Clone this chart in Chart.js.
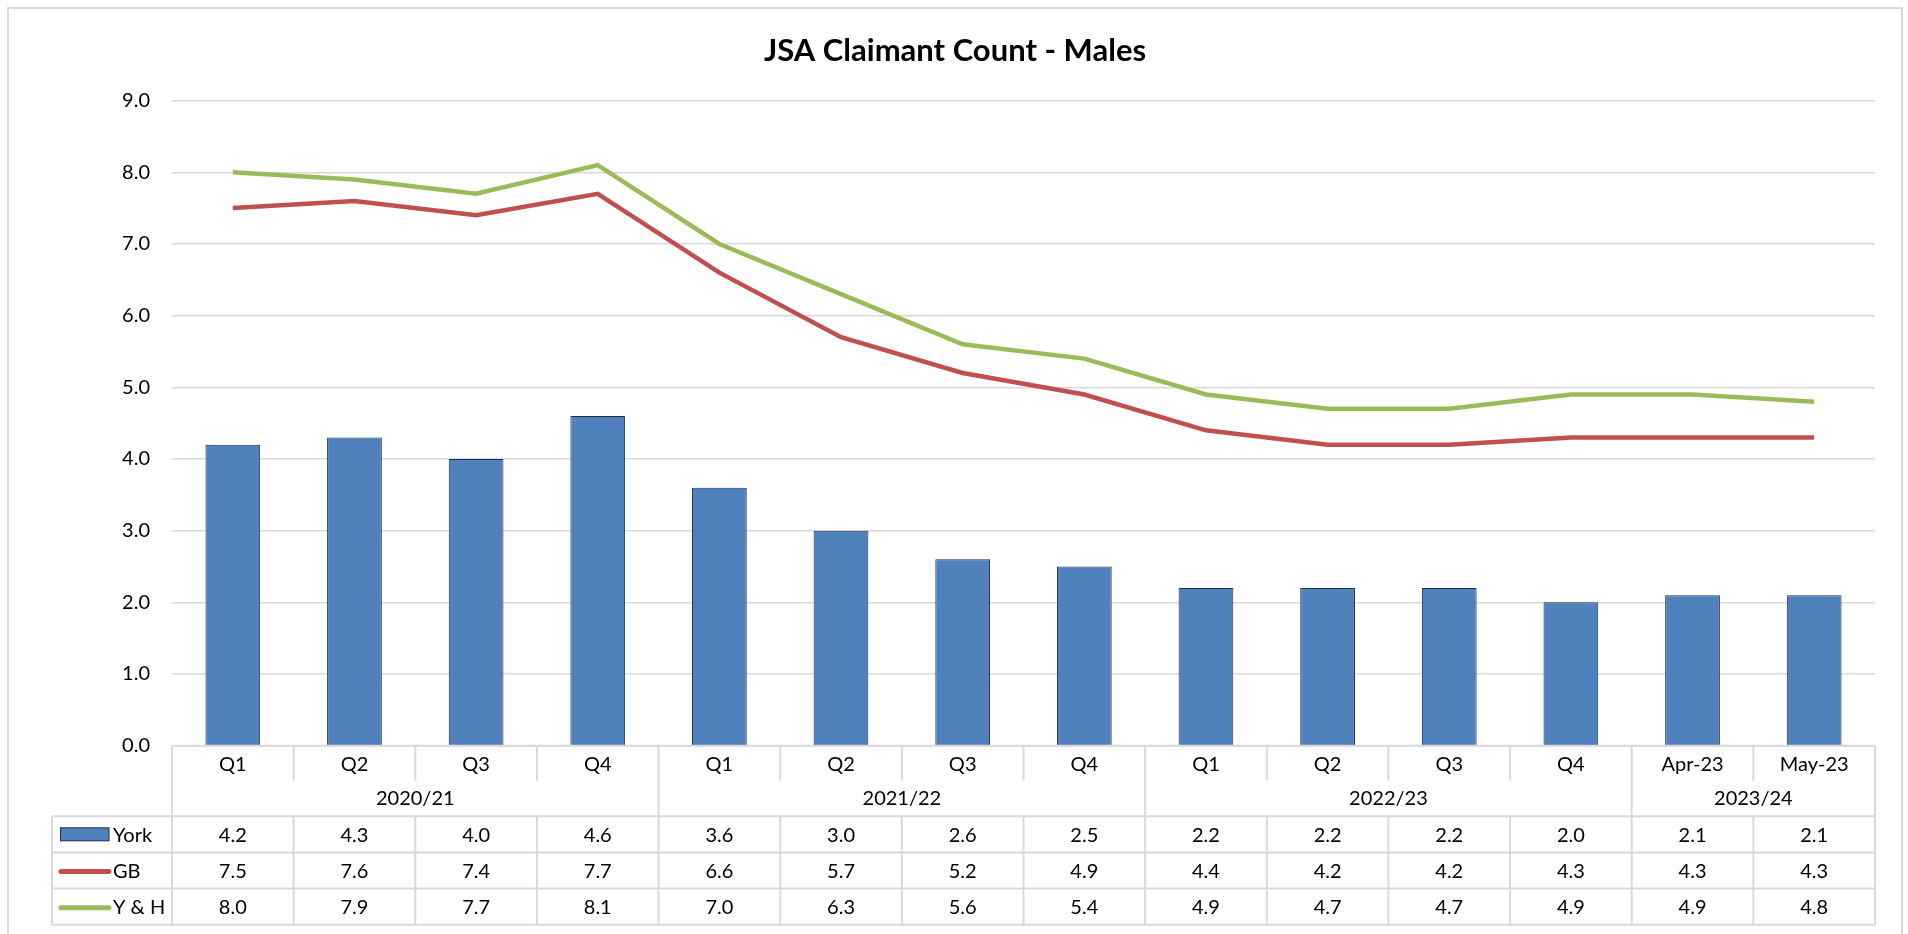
<!DOCTYPE html>
<html>
<head>
<meta charset="utf-8">
<title>JSA Claimant Count - Males</title>
<script src="https://cdn.jsdelivr.net/npm/chart.js@4.4.0/dist/chart.umd.min.js"></script>
<style>
  html,body{margin:0;padding:0;background:#fff;}
  #wrap{width:1908px;height:934px;position:relative;}
</style>
</head>
<body>
<div id="wrap"><canvas id="chart" width="1908" height="934"></canvas></div>
<script>
// data
const quarters = ['Q1','Q2','Q3','Q4','Q1','Q2','Q3','Q4','Q1','Q2','Q3','Q4','Apr-23','May-23'];
const yearLabels = ['2020/21','2021/22','2022/23','2023/24'];
const yearSpans = [4,4,4,2];
const york = [4.2,4.3,4.0,4.6,3.6,3.0,2.6,2.5,2.2,2.2,2.2,2.0,2.1,2.1];
const gb   = [7.5,7.6,7.4,7.7,6.6,5.7,5.2,4.9,4.4,4.2,4.2,4.3,4.3,4.3];
const yh   = [8.0,7.9,7.7,8.1,7.0,6.3,5.6,5.4,4.9,4.7,4.7,4.9,4.9,4.8];
const yMin = 0, yMax = 9, yStep = 1;

const FONT = 'Lato, "Open Sans", sans-serif';
const GRID = '#d9d9d9';

const seriesKeys = [
  {name:'York', kind:'bar', color:'#4F81BD', border:'#1f2f4a', values:york},
  {name:'GB', kind:'line', color:'#C0504D', values:gb},
  {name:'Y & H', kind:'line', color:'#9BBB59', values:yh}
];

// frame + title + data table under the axis
const tablePlugin = {
  id:'dataTable',
  beforeDraw(chart){
    const ctx = chart.ctx;
    ctx.save();
    ctx.fillStyle = '#fff';
    ctx.fillRect(0,0,chart.width,chart.height);
    ctx.strokeStyle = GRID; ctx.lineWidth = 2;
    ctx.strokeRect(8,8,1894,940);
    ctx.fillStyle = '#000';
    ctx.font = 'bold 31px ' + FONT;
    ctx.textAlign = 'center'; ctx.textBaseline = 'alphabetic';
    ctx.fillText('JSA Claimant Count - Males', 955, 61);
    ctx.restore();
  },
  afterDraw(chart){
    const ctx = chart.ctx;
    const x = chart.scales.x;
    const n = quarters.length;
    const w = x.getPixelForValue(1) - x.getPixelForValue(0);
    const left = x.getPixelForValue(0) - w/2;
    const right = left + w*n;
    const top = chart.chartArea.bottom;
    const qEnd = top + 35, tTop = top + 70.5, rowH = 36.2;
    const bottom = tTop + rowH*3;
    const keyLeft = 52;

    ctx.save();
    ctx.strokeStyle = GRID; ctx.lineWidth = 2;
    const line = (x1,y1,x2,y2)=>{ctx.beginPath();ctx.moveTo(x1,y1);ctx.lineTo(x2,y2);ctx.stroke();};
    line(left, top, right, top);
    for (let r=0;r<=3;r++) line(keyLeft, tTop + r*rowH, right, tTop + r*rowH);
    line(left, top, left, bottom);
    line(right, top, right, bottom);
    line(keyLeft, tTop, keyLeft, bottom);
    const groupEdges = [];
    let acc = 0; yearSpans.forEach(s=>{acc+=s; groupEdges.push(acc);});
    for (let i=1;i<n;i++){
      const xx = left + i*w;
      if (groupEdges.includes(i)) line(xx, top, xx, tTop);
      else line(xx, top, xx, qEnd);
      line(xx, tTop, xx, bottom);
    }

    ctx.fillStyle = '#000';
    ctx.font = '20px ' + FONT;
    ctx.textAlign = 'center'; ctx.textBaseline = 'alphabetic';
    quarters.forEach((q,i)=>ctx.fillText(q, left + (i+0.5)*w, top + 25));
    let start = 0;
    yearLabels.forEach((y,g)=>{
      ctx.fillText(y, left + (start + yearSpans[g]/2)*w, top + 59.5);
      start += yearSpans[g];
    });
    seriesKeys.forEach((s,r)=>{
      const base = tTop + r*rowH + 25.5;
      s.values.forEach((v,i)=>ctx.fillText(v.toFixed(1), left + (i+0.5)*w, base));
      const cy = tTop + r*rowH + rowH/2;
      if (s.kind==='bar'){
        ctx.fillStyle = s.color; ctx.fillRect(60, cy-6.5, 49, 13);
        ctx.strokeStyle = s.border; ctx.lineWidth = 1; ctx.strokeRect(60.5, cy-6.5, 48.5, 13);
      } else {
        ctx.strokeStyle = s.color; ctx.lineWidth = 5; ctx.lineCap = 'round';
        line(61, cy+1, 109, cy+1);
      }
      ctx.fillStyle = '#000'; ctx.textAlign = 'left';
      ctx.fillText(s.name, 113, base);
      ctx.textAlign = 'center';
    });
    ctx.restore();
  }
};

const ctx = document.getElementById('chart').getContext('2d');
new Chart(ctx, {
  data: {
    labels: quarters,
    datasets: [
      {type:'line', label:'Y & H', data:yh, borderColor:'#9BBB59', borderWidth:4.5, pointRadius:0, tension:0, order:0},
      {type:'line', label:'GB', data:gb, borderColor:'#C0504D', borderWidth:4.5, pointRadius:0, tension:0, order:1},
      {type:'bar', label:'York', data:york, backgroundColor:'#4F81BD', borderColor:'#1f2f4a', borderWidth:1,
        barPercentage:0.45, categoryPercentage:1, order:2}
    ]
  },
  options: {
    responsive:false,
    animation:false,
    devicePixelRatio:1,
    layout:{padding:{top:100.6, right:33, bottom:188.3, left:0}},
    plugins:{legend:{display:false}, title:{display:false}, tooltip:{enabled:false}},
    scales:{
      x:{display:false, offset:true},
      y:{
        min:yMin, max:yMax,
        afterFit(scale){ scale.width = 172; },
        border:{display:false},
        grid:{color:GRID, lineWidth:1.5, drawTicks:false},
        ticks:{stepSize:yStep, padding:22, color:'#000', font:{family:FONT, size:20},
          callback:v=>Number(v).toFixed(1)}
      }
    }
  },
  plugins:[tablePlugin]
});
</script>
</body>
</html>
